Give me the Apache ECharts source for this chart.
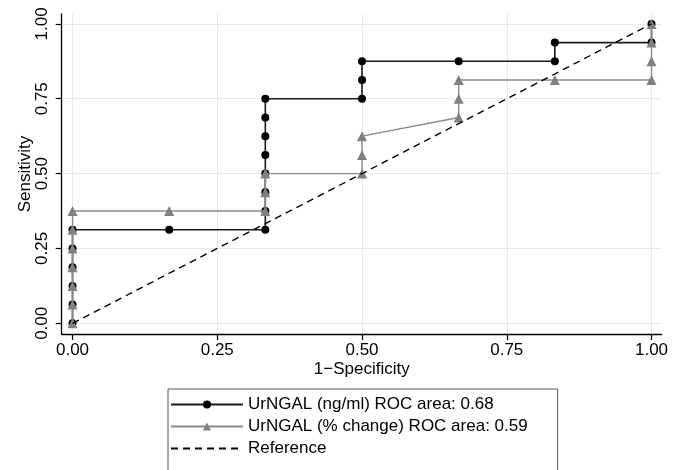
<!DOCTYPE html>
<html>
<head>
<meta charset="utf-8">
<script src="https://cdn.jsdelivr.net/npm/echarts@6/dist/echarts.min.js"></script>
<style>
  html, body { margin: 0; padding: 0; background: #fff; }
  #chart { width: 680px; height: 470px; }
</style>
</head>
<body>
<div id="chart"></div>
<script>
// ROC points
const ngmlX = [0, 0, 0, 0, 0, 0, 0.167, 0.333, 0.333, 0.333, 0.333, 0.333, 0.333, 0.333, 0.333, 0.5, 0.5, 0.5, 0.667, 0.833, 0.833, 1, 1];
const ngmlY = [0, 0.0625, 0.125, 0.1875, 0.25, 0.3125, 0.3125, 0.3125, 0.375, 0.4375, 0.5, 0.5625, 0.625, 0.6875, 0.75, 0.75, 0.8125, 0.875, 0.875, 0.875, 0.9375, 0.9375, 1];

const pctX = [0, 0, 0, 0, 0, 0, 0, 0.167, 0.333, 0.333, 0.333, 0.5, 0.5, 0.5, 0.667, 0.667, 0.667, 0.833, 1, 1, 1, 1];
const pctY = [0, 0.0625, 0.125, 0.1875, 0.25, 0.3125, 0.375, 0.375, 0.375, 0.4375, 0.5, 0.5, 0.5625, 0.625, 0.6875, 0.75, 0.8125, 0.8125, 0.8125, 0.875, 0.9375, 1];

const refX = [0, 1];
const refY = [0, 1];

const tickValues = [0, 0.25, 0.5, 0.75, 1];
const names = ['UrNGAL (ng/ml) ROC area: 0.68', 'UrNGAL (% change) ROC area: 0.59', 'Reference'];

const zip = (xs, ys) => xs.map((x, i) => [x, ys[i]]);
const font = '"Liberation Sans", Arial, Helvetica, sans-serif';

let ec = echarts.init(document.getElementById('chart'));
let option = {
    animation: false,
    textStyle: {fontFamily: font},
    grid: {left: 61.7, right: 18.3, top: 14, bottom: 136},
    xAxis: {
        type: 'value',
        min: -0.0187,
        max: 1.0176,
        name: '1\u2212Specificity',
        nameLocation: 'middle',
        nameGap: 27,
        nameMoveOverlap: false,
        nameTextStyle: {fontSize: 17, color: '#000', fontFamily: font},
        axisLine: {show: true, onZero: false, lineStyle: {color: '#000', width: 1.3}},
        axisTick: {show: true, length: 6, customValues: tickValues, lineStyle: {color: '#000', width: 1.2}},
        axisLabel: {
            customValues: tickValues, margin: 8, fontSize: 17, color: '#000', fontFamily: font,
            formatter: (v) => v.toFixed(2)
        },
        splitLine: {show: true, lineStyle: {color: '#e8e8e8', width: 1}}
    },
    yAxis: {
        type: 'value',
        min: -0.0357,
        max: 1.033,
        name: 'Sensitivity',
        nameLocation: 'middle',
        nameGap: 28,
        nameMoveOverlap: false,
        nameTextStyle: {fontSize: 17, color: '#000', fontFamily: font},
        axisLine: {show: true, onZero: false, lineStyle: {color: '#000', width: 1.3}},
        axisTick: {show: true, length: 6, customValues: tickValues, lineStyle: {color: '#000', width: 1.2}},
        axisLabel: {
            customValues: tickValues, margin: 11, fontSize: 17, color: '#000', fontFamily: font,
            rotate: 90,
            formatter: (v) => v.toFixed(2)
        },
        splitLine: {show: true, lineStyle: {color: '#e8e8e8', width: 1}}
    },
    legend: {
        orient: 'vertical',
        left: 168,
        top: 389,
        height: 120,
        data: [names[0], names[1], {name: names[2], itemStyle: {opacity: 0}}],
        itemWidth: 72,
        itemHeight: 10,
        itemGap: 5,
        padding: [7, 30, 24, 2],
        borderColor: '#555',
        borderWidth: 1,
        textStyle: {fontSize: 17, color: '#000', fontFamily: font, lineHeight: 17}
    },
    series: [{
        name: names[0],
        type: 'line',
        data: zip(ngmlX, ngmlY),
        symbol: 'circle',
        symbolSize: 8,
        itemStyle: {color: '#000'},
        lineStyle: {color: '#1a1a1a', width: 1.6},
        z: 2
    }, {
        name: names[1],
        type: 'line',
        data: zip(pctX, pctY),
        symbol: 'triangle',
        symbolSize: 10,
        itemStyle: {color: '#808080'},
        lineStyle: {color: '#8a8a8a', width: 1.4},
        z: 3
    }, {
        name: names[2],
        type: 'line',
        data: zip(refX, refY),
        symbol: 'none',
        itemStyle: {color: '#000'},
        lineStyle: {color: '#000', width: 1.4, type: [7, 5]},
        z: 4
    }]
};
ec.setOption(option);
</script>
</body>
</html>
